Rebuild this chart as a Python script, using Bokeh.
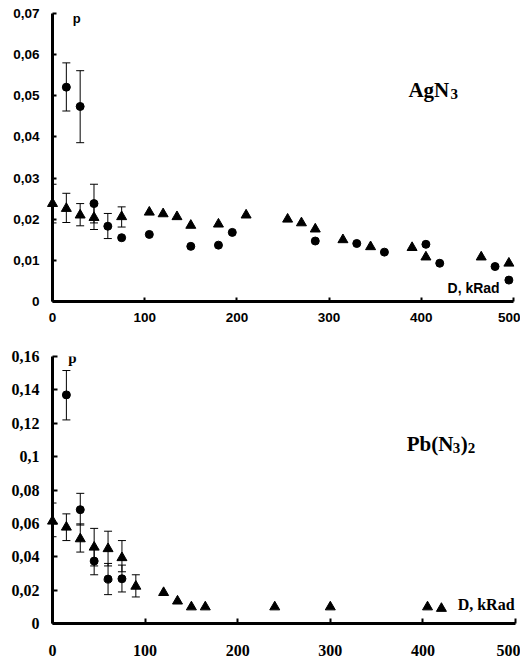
from bokeh.plotting import figure
from bokeh.models import Range1d, FixedTicker, Whisker, TeeHead, ColumnDataSource, Label
from bokeh.layouts import column
from bokeh.embed import file_html
from bokeh.resources import INLINE

# ---------------- data: AgN3 (top) ----------------
ag_circ_d = [15, 30, 45, 60, 75, 105, 150, 180, 195, 285, 330, 360, 405, 420, 480, 495]
ag_circ_p = [0.0521, 0.0474, 0.0238, 0.0183, 0.0155, 0.0163, 0.0134, 0.0137, 0.0168,
             0.0147, 0.0141, 0.0120, 0.0139, 0.0093, 0.0085, 0.0052]
ag_tri_d = [0, 15, 30, 45, 75, 105, 120, 135, 150, 180, 210, 255, 270, 285, 315, 345,
            390, 405, 465, 495]
ag_tri_p = [0.0238, 0.0226, 0.0210, 0.0204, 0.0206, 0.0217, 0.0213, 0.0206, 0.0185,
            0.0188, 0.0210, 0.0200, 0.0191, 0.0176, 0.0150, 0.0133, 0.0131, 0.0108,
            0.0108, 0.0093]
ag_circ_err_d = [15, 30, 45, 60]
ag_circ_err_up = [0.0580, 0.0561, 0.0285, 0.0214]
ag_circ_err_lo = [0.0463, 0.0386, 0.0191, 0.0153]
ag_tri_err_d = [0, 15, 30, 45, 75]
ag_tri_err_up = [0.0285, 0.0263, 0.0238, 0.0233, 0.0230]
ag_tri_err_lo = [0.0191, 0.0192, 0.0184, 0.0175, 0.0181]
ag_y_ticks = [0, 0.01, 0.02, 0.03, 0.04, 0.05, 0.06, 0.07]
ag_y_labels = ["0", "0,01", "0,02", "0,03", "0,04", "0,05", "0,06", "0,07"]

# ---------------- data: Pb(N3)2 (bottom) ----------------
pb_circ_d = [15, 30, 45, 60, 75]
pb_circ_p = [0.137, 0.0682, 0.0374, 0.0266, 0.0268]
pb_circ_err_up = [0.1516, 0.078, 0.045, 0.036, 0.035]
pb_circ_err_lo = [0.122, 0.059, 0.0292, 0.0173, 0.0189]
pb_tri_d = [0, 15, 30, 45, 60, 75, 90, 120, 135, 150, 165, 240, 300, 405, 420]
pb_tri_p = [0.0613, 0.0577, 0.0507, 0.0457, 0.0448, 0.0394, 0.0223, 0.0185, 0.0134,
            0.0099, 0.0099, 0.0099, 0.0099, 0.0099, 0.0090]
pb_tri_err_d = [0, 15, 30, 45, 60, 75, 90]
pb_tri_err_up = [0.0722, 0.0657, 0.0597, 0.0570, 0.0553, 0.0497, 0.0292]
pb_tri_err_lo = [0.0520, 0.0497, 0.0428, 0.0345, 0.0345, 0.0310, 0.0159]
pb_y_ticks = [0, 0.02, 0.04, 0.06, 0.08, 0.10, 0.12, 0.14, 0.16]
pb_y_labels = ["0", "0,02", "0,04", "0,06", "0,08", "0,1", "0,12", "0,14", "0,16"]

x_ticks = [0, 100, 200, 300, 400, 500]


def style_axes(p, y_ticks, y_labels, font, size, x_standoff, y_standoff, tick_len):
    p.xaxis.ticker = FixedTicker(ticks=x_ticks)
    p.yaxis.ticker = FixedTicker(ticks=y_ticks)
    p.yaxis.major_label_overrides = {t: l for t, l in zip(y_ticks, y_labels)}
    for ax in (p.xaxis, p.yaxis):
        ax.axis_line_width = 3
        ax.axis_line_color = "black"
        ax.major_tick_in = tick_len
        ax.major_tick_out = 0
        ax.major_tick_line_width = 2
        ax.major_tick_line_color = "black"
        ax.minor_tick_line_color = None
        ax.major_label_text_font = font
        ax.major_label_text_font_style = "bold"
        ax.major_label_text_font_size = size
        ax.major_label_text_color = "black"
    p.xaxis.major_label_standoff = x_standoff
    p.yaxis.major_label_standoff = y_standoff
    p.xgrid.grid_line_color = None
    p.ygrid.grid_line_color = None
    p.outline_line_color = None


def add_whiskers(p, d, up, lo):
    src = ColumnDataSource(data=dict(base=d, upper=up, lower=lo))
    w = Whisker(source=src, base="base", upper="upper", lower="lower",
                dimension="height", line_color="black", line_width=1, level="overlay",
                upper_head=TeeHead(size=8, line_width=1, line_color="black"),
                lower_head=TeeHead(size=8, line_width=1, line_color="black"))
    p.add_layout(w)


SANS = "Liberation Sans"
SERIF = "Liberation Serif"

# ---------------- top figure ----------------
p1 = figure(frame_width=461, frame_height=288, output_backend="svg",
            toolbar_location=None, x_range=Range1d(0, 500), y_range=Range1d(0, 0.07),
            min_border_left=50, min_border_right=9, min_border_top=13, min_border_bottom=25)
style_axes(p1, ag_y_ticks, ag_y_labels, SANS, "13.5px", 11, 13, 4)
add_whiskers(p1, ag_circ_err_d, ag_circ_err_up, ag_circ_err_lo)
add_whiskers(p1, ag_tri_err_d, ag_tri_err_up, ag_tri_err_lo)
r = p1.scatter(ag_circ_d, ag_circ_p, marker="circle", size=8, color="black")
r.level = "overlay"
r = p1.scatter(ag_tri_d, ag_tri_p, marker="triangle", size=10, color="black")
r.level = "overlay"
p1.add_layout(Label(x=22, y=0.0688, text="p", text_font=SANS, text_font_style="bold",
                    text_font_size="13px", text_baseline="middle", text_color="black"))
p1.add_layout(Label(x=485, y=0.0032, text="D, kRad", text_font=SANS, text_font_style="bold",
                    text_font_size="14px", text_baseline="middle", text_align="right",
                    text_color="black"))
ag_title = [("AgN", 0, 0, "21px"), ("3", 42, -4, "15px")]
for txt, dx, dy, fs in ag_title:
    p1.add_layout(Label(x=386, y=0.0513, x_offset=dx, y_offset=dy, text=txt, text_font=SERIF,
                        text_font_style="bold", text_font_size=fs,
                        text_baseline="alphabetic", text_color="black"))

# ---------------- bottom figure ----------------
p2 = figure(frame_width=463, frame_height=267, output_backend="svg",
            toolbar_location=None, x_range=Range1d(0, 500), y_range=Range1d(0, 0.16),
            min_border_left=52, min_border_right=5, min_border_top=30, min_border_bottom=34)
style_axes(p2, pb_y_ticks, pb_y_labels, SERIF, "16px", 21, 13, 5)
add_whiskers(p2, pb_circ_d, pb_circ_err_up, pb_circ_err_lo)
add_whiskers(p2, pb_tri_err_d, pb_tri_err_up, pb_tri_err_lo)
r = p2.scatter(pb_circ_d, pb_circ_p, marker="circle", size=8, color="black")
r.level = "overlay"
r = p2.scatter(pb_tri_d, pb_tri_p, marker="triangle", size=10, color="black")
r.level = "overlay"
p2.add_layout(Label(x=17, y=0.159, text="p", text_font=SERIF, text_font_style="bold",
                    text_font_size="15px", text_baseline="middle", text_color="black"))
p2.add_layout(Label(x=499, y=0.0115, text="D, kRad", text_font=SERIF, text_font_style="bold",
                    text_font_size="16px", text_baseline="middle", text_align="right",
                    text_color="black"))
pb_title = [("Pb(N", 0, 0, "21px"), ("3", 46, -4, "15px"), (")", 54, 0, "21px"),
            ("2", 61, -4, "15px")]
for txt, dx, dy, fs in pb_title:
    p2.add_layout(Label(x=382.5, y=0.1075, x_offset=dx, y_offset=dy, text=txt, text_font=SERIF,
                        text_font_style="bold", text_font_size=fs,
                        text_baseline="alphabetic", text_color="black"))

layout = column(p1, p2, spacing=0)
open("out.html", "w").write(file_html(layout, INLINE))
